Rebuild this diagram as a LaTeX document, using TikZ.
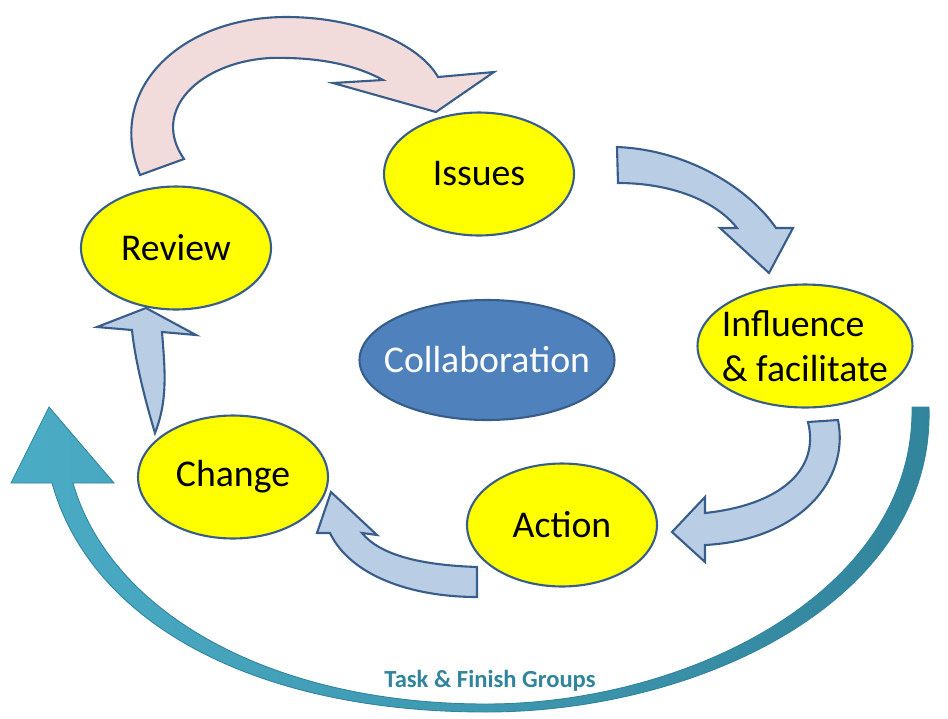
\documentclass[tikz,border=0pt]{standalone}
\usepackage{fontspec}
\setmainfont{Carlito}
\usepackage{tikz}
\usetikzlibrary{shapes.geometric}

\definecolor{stageyellow}{HTML}{FFFF00}
\definecolor{edgeblue}{HTML}{385D8A}
\definecolor{midblue}{HTML}{4F81BD}
\definecolor{paleblue}{HTML}{B9CDE5}
\definecolor{palepink}{HTML}{F2DCDB}
\definecolor{tealA}{HTML}{4BACC6}
\definecolor{tealB}{HTML}{31849B}

\tikzset{
  stage/.style={draw=edgeblue, line width=1.2pt, fill=stageyellow, ellipse,
    inner sep=-10pt, minimum width=3.8cm, minimum height=2.46cm,
    font=\fontsize{21.5}{26}\selectfont},
  flowarrow/.style={draw=edgeblue, line width=1.2pt, fill=paleblue, line join=miter},
}

\begin{document}
\begin{tikzpicture}[x=0.02cm, y=-0.02cm]
            \useasboundingbox (0,0) rectangle (948,718);
            % Big teal arrow round the bottom
            \path[left color=tealA, right color=tealB, draw=tealB, line width=0.5pt]
              (929,407) .. controls (935,600) and (700,712) .. (486,712)
              .. controls (250,712) and (90,620) .. (52,483)
              -- (11,483) -- (49,407) -- (114,483) -- (73,483)
              .. controls (110,612) and (270,704) .. (486,704)
              .. controls (690,704) and (915,590) .. (912,407) -- cycle;
            \node[text=tealB, font=\fontsize{14}{17}\selectfont\bfseries] (groups) at (490,681) {Task \& Finish Groups};
            % Pink arrow from Review to Issues
            \path[flowarrow, fill=palepink]
              (140,175) .. controls (105,90) and (180,17) .. (286,17)
              .. controls (360,17) and (420,45) .. (438,77)
              -- (494,72) -- (436,112) -- (333,83) -- (383,80)
              .. controls (350,62) and (310,57) .. (270,58)
              .. controls (200,62) and (150,110) .. (184,159) -- cycle;
            % Blue arrows round the cycle
            \path[flowarrow]
              (617,147) .. controls (690,150) and (750,190) .. (776,228)
              -- (793,228) -- (769,273) -- (720,228) -- (737,228)
              .. controls (715,200) and (670,183) .. (618,183) -- cycle;
            \path[flowarrow]
              (808,422) .. controls (820,470) and (780,505) .. (705,513)
              -- (705,497) -- (672,532) -- (705,562) -- (705,545)
              .. controls (800,540) and (850,480) .. (838,420) -- cycle;
            \path[flowarrow]
              (477,567) .. controls (420,565) and (380,555) .. (362,533)
              -- (377,535) -- (331,492) -- (317,533) -- (330,533)
              .. controls (350,575) and (410,597) .. (477,597) -- cycle;
            \path[flowarrow]
              (155,433) .. controls (145,400) and (135,360) .. (132,330)
              -- (97,327) -- (146,308) -- (196,335) -- (162,332)
              .. controls (165,370) and (168,400) .. (155,433) -- cycle;
            % Stages
            \node[stage] (issues) at (479,174) {Issues};
            \node[stage] (review) at (176,248) {Review};
            \node[stage, minimum width=4.3cm, align=left] (influence) at (805,346) {Influence\\\& facilitate};
            \node[stage] (change) at (233,477) {Change};
            \node[stage] (action) at (562,525) {Action};
            \node[stage, fill=midblue, text=white, minimum width=5.1cm, minimum height=2.4cm] (collab) at (487,360) {Collaboration};
        \end{tikzpicture}
\end{document}
